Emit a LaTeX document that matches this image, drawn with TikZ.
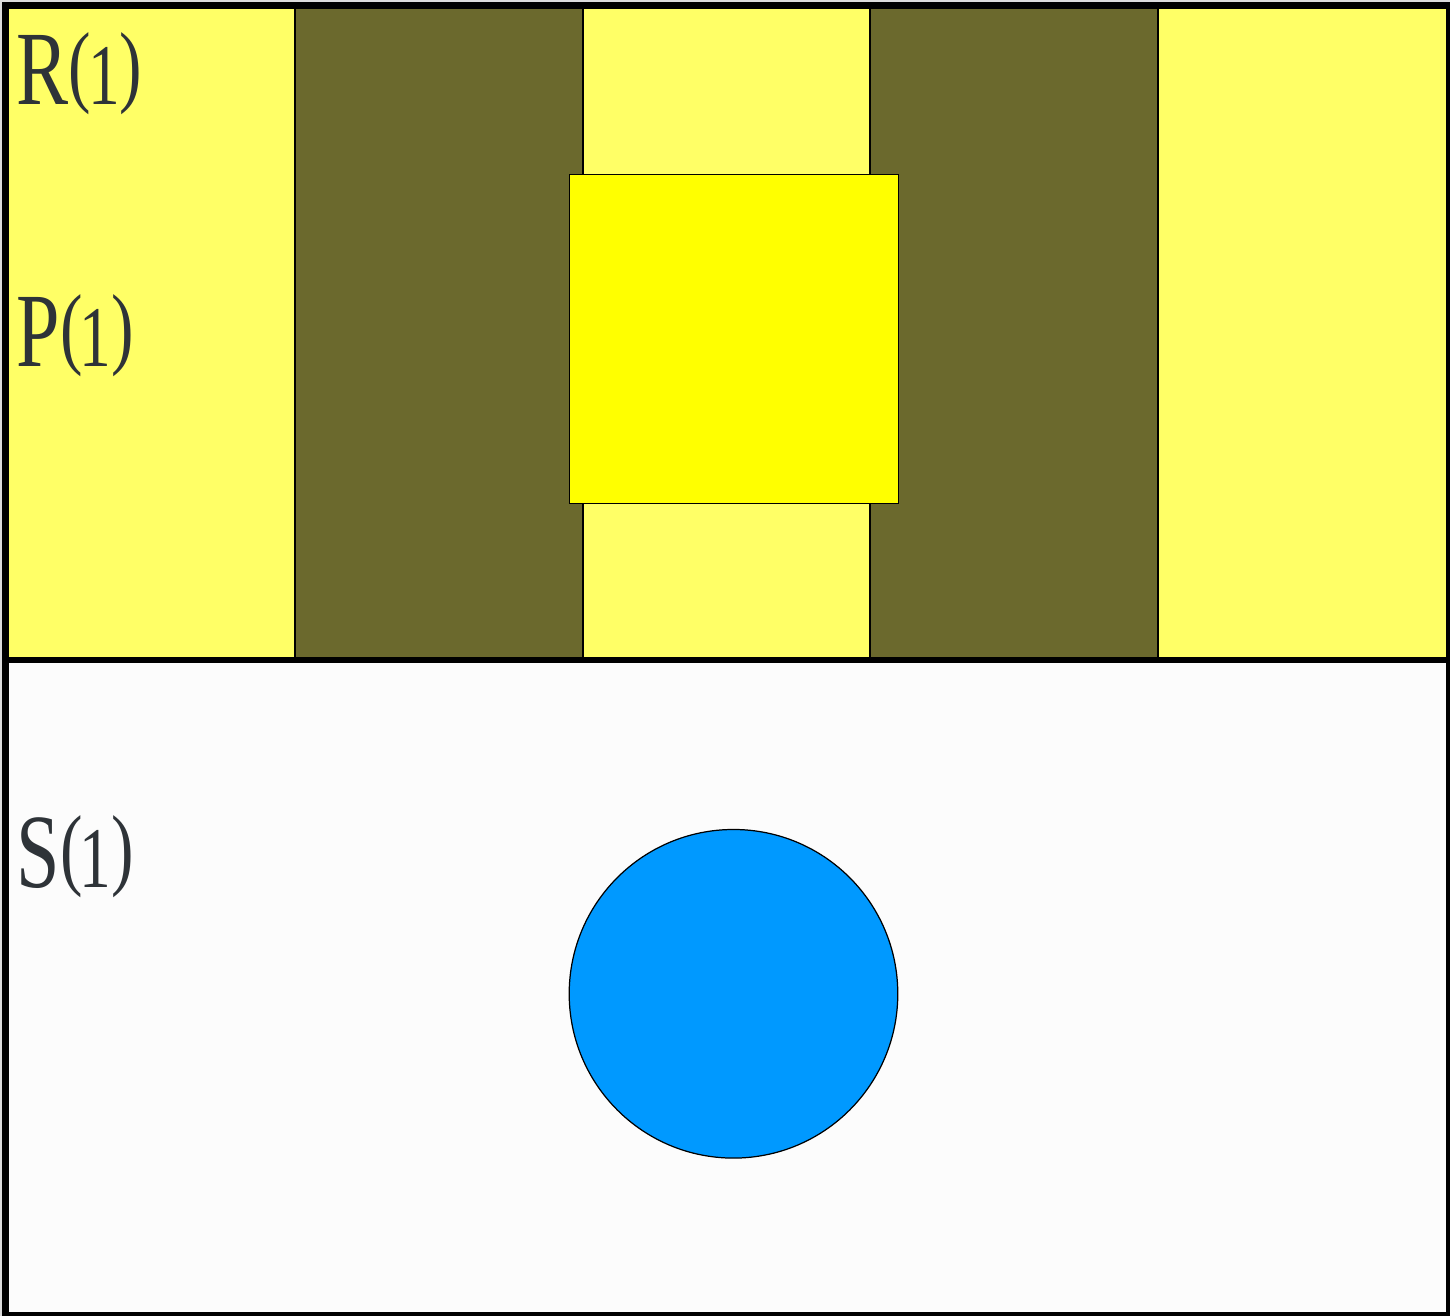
\documentclass[tikz,border=0pt]{standalone}
\usepackage{fontspec}
\setmainfont{Liberation Serif}
\definecolor{lightyel}{HTML}{FFFF66}
\definecolor{olive2}{HTML}{6B692D}
\definecolor{brightyel}{HTML}{FFFF00}
\definecolor{skyblue}{HTML}{0099FF}
\definecolor{paper}{HTML}{FCFCFC}
\definecolor{ink}{HTML}{2E3338}
\definecolor{margin}{HTML}{DCDCDC}
\tikzset{
  stripe/.style={draw=black, line width=0.35pt},
  label/.style={anchor=base west, inner sep=0pt, text=ink, font=\fontsize{30}{31}\selectfont},
}
\newcommand{\lparen}{\raisebox{0.09cm}{\scalebox{0.64}[0.86]{(}}}
\newcommand{\rparen}{\raisebox{0.09cm}{\scalebox{0.64}[0.86]{)}}}
\newcommand{\lbl}[1]{\scalebox{0.74}[1]{#1}\lparen\kern-0.03cm\scalebox{0.6}[0.82]{1}\kern0.0cm\rparen}
\begin{document}
\begin{tikzpicture}[x=0.01cm, y=-0.01cm]
\useasboundingbox (0,0) rectangle (1450,1316);
% margin and frame
\fill[margin] (0,0) rectangle (1450,1316);
\fill[black] (2,2) rectangle (1450,1316);
% top panel stripes
\fill[lightyel] (9,9) rectangle (295,657);
\fill[olive2] (295,9) rectangle (583,657);
\fill[lightyel] (583,9) rectangle (870,657);
\fill[olive2] (870,9) rectangle (1158,657);
\fill[lightyel] (1158,9) rectangle (1446,657);
\draw[stripe] (295,9) -- (295,657);
\draw[stripe] (583,9) -- (583,657);
\draw[stripe] (870,9) -- (870,657);
\draw[stripe] (1158,9) -- (1158,657);
% bottom panel
\fill[paper] (9,663) rectangle (1446,1312);
% yellow square
\draw[fill=brightyel, line width=0.4pt] (569.5,174.5) rectangle (898.5,503.5);
% blue circle
\draw[fill=skyblue, line width=0.35pt] (733.5,993.8) circle[radius=164.3];
% labels
\node[label] (r) at (16,105) {\lbl{R}};
\node[label] (p) at (16,367) {\lbl{P}};
\node[label] (s) at (16,888) {\lbl{S}};
\end{tikzpicture}
\end{document}
